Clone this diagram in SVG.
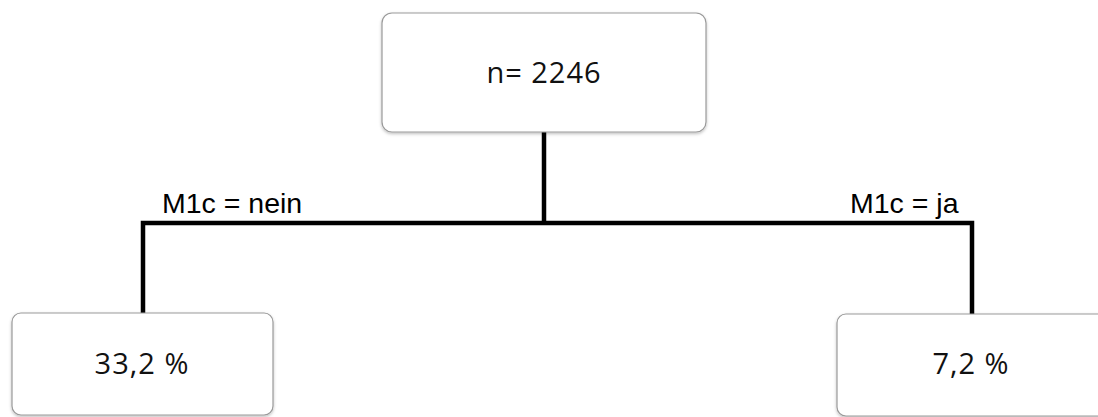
<svg xmlns="http://www.w3.org/2000/svg" width="1098" height="417" viewBox="0 0 1098 417">
<style>
.box{fill:#ffffff;stroke:#9a9a9a;stroke-width:1.2;filter:url(#sh)}
.nt{font-family:"Open Sans",sans-serif;font-size:29px;letter-spacing:1px;fill:#111;text-anchor:middle}
.lb{font-family:"Liberation Sans",Arial,sans-serif;font-size:28.5px;fill:#000}
.con{fill:none;stroke:#000;stroke-width:4.5;stroke-linecap:butt;stroke-linejoin:miter}
</style>
<defs>
<filter id="sh" x="-10%" y="-10%" width="120%" height="130%">
<feDropShadow dx="0" dy="1.5" stdDeviation="1.5" flood-color="#000" flood-opacity="0.25"/>
</filter>
</defs>
<rect width="1098" height="417" fill="#fff"/>
<g id="connectors">
<path class="con" d="M544 132 V223"/>
<path class="con" d="M143 313 V223 H972 V314"/>
</g>
<g id="root">
<rect class="box" x="382" y="13" width="324" height="119" rx="10"/>
<text class="nt" x="544" y="83">n= 2246</text>
</g>
<g id="left">
<rect class="box" x="12" y="313" width="261" height="102" rx="9"/>
<text class="nt" x="142" y="374">33,2 %</text>
</g>
<g id="right">
<rect class="box" x="837" y="314" width="280" height="102" rx="9"/>
<text class="nt" x="971" y="374">7,2 %</text>
</g>
<g id="labels">
<text class="lb" x="162" y="213">M1c = nein</text>
<text class="lb" x="850" y="213">M1c = ja</text>
</g>
</svg>
